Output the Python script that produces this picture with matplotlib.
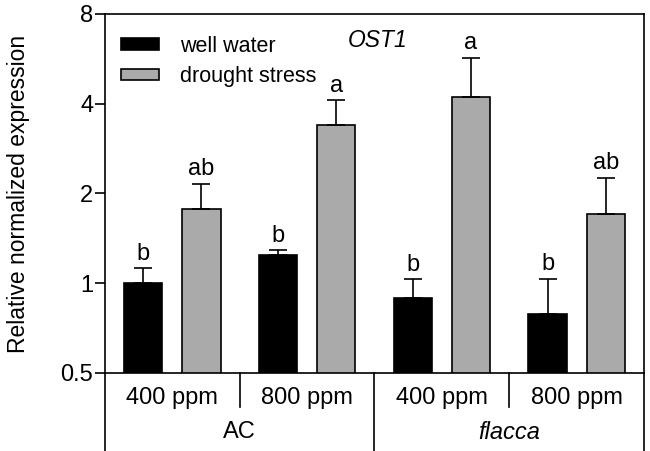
import matplotlib
matplotlib.use('Agg')
import matplotlib.pyplot as plt
import matplotlib.transforms as mtransforms
import numpy as np

plt.rcParams['font.family'] = ['Liberation Sans', 'DejaVu Sans']

# dados
genotypes = ['AC', 'flacca']
co2_labels = ['400 ppm', '800 ppm', '400 ppm', '800 ppm']
well = [1.0, 1.24, 0.89, 0.787]
well_err = [0.125, 0.05, 0.14, 0.25]
drought = [1.78, 3.39, 4.22, 1.71]
drought_err = [0.38, 0.72, 1.49, 0.55]
letters_well = ['b', 'b', 'b', 'b']
letters_drought = ['ab', 'a', 'a', 'ab']

fig = plt.figure(figsize=(6.5, 4.51), dpi=100)
ax = fig.add_axes([0.1615, 0.173, 0.8293, 0.796])

x = np.arange(len(co2_labels))
w = 0.283
off = 0.216
lw = 1.2

err_kw = dict(elinewidth=lw, capthick=lw, ecolor='black')
b1 = ax.bar(x - off, well, w, color='black', edgecolor='black', linewidth=lw,
            yerr=[np.zeros(4), well_err], capsize=6.5, error_kw=err_kw,
            label='well water', zorder=2)
b2 = ax.bar(x + off, drought, w, color='#aaaaaa', edgecolor='black', linewidth=lw,
            yerr=[np.zeros(4), drought_err], capsize=6.5, error_kw=err_kw,
            label='drought stress', zorder=2)

# letras de significancia
for i in range(4):
    ax.annotate(letters_well[i], (x[i] - off, well[i] + well_err[i]),
                xytext=(0, 2.5), textcoords='offset points',
                ha='center', va='bottom', fontsize=17)
    ax.annotate(letters_drought[i], (x[i] + off, drought[i] + drought_err[i]),
                xytext=(0, 2.5), textcoords='offset points',
                ha='center', va='bottom', fontsize=17)

ax.set_yscale('log', base=2)
ax.set_ylim(0.5, 8)
ax.set_xlim(-0.5, 3.5)
ax.set_yticks([0.5, 1, 2, 4, 8])
ax.set_yticklabels(['0.5', '1', '2', '4', '8'])
ax.yaxis.set_minor_locator(matplotlib.ticker.NullLocator())
ax.tick_params(axis='y', labelsize=17, length=7, width=lw, direction='out', pad=1.5)
ax.set_xticks([])
for s in ax.spines.values():
    s.set_linewidth(lw)

ax.set_ylabel('Relative normalized expression', fontsize=16.5, labelpad=22)

ax.text(0.505, 0.925, 'OST1', style='italic', fontsize=16.5,
        transform=ax.transAxes, ha='center', va='center')

ax.legend(loc='upper left', bbox_to_anchor=(0.0, 0.985), frameon=False,
          fontsize=15.5, handlelength=1.75, handleheight=0.45,
          handletextpad=1.0, labelspacing=0.45, borderaxespad=0.35)

# eixo x agrupado abaixo do grafico
trans = mtransforms.blended_transform_factory(ax.transData, ax.transAxes)
for xs in [-0.5, 1.5, 3.5]:
    ax.plot([xs, xs], [0, -0.217], color='black', lw=lw, transform=trans, clip_on=False)
for xs in [0.5, 2.5]:
    ax.plot([xs, xs], [0, -0.095], color='black', lw=lw, transform=trans, clip_on=False)
for i, lab in enumerate(co2_labels):
    ax.text(x[i], -0.070, lab, transform=trans, ha='center', va='center', fontsize=17)
for g, lab in enumerate(genotypes):
    ax.text(0.5 + 2 * g, -0.165, lab, transform=trans, ha='center', va='center',
            fontsize=17, style='italic' if lab == 'flacca' else 'normal')

fig.savefig('out.png', dpi=100)
